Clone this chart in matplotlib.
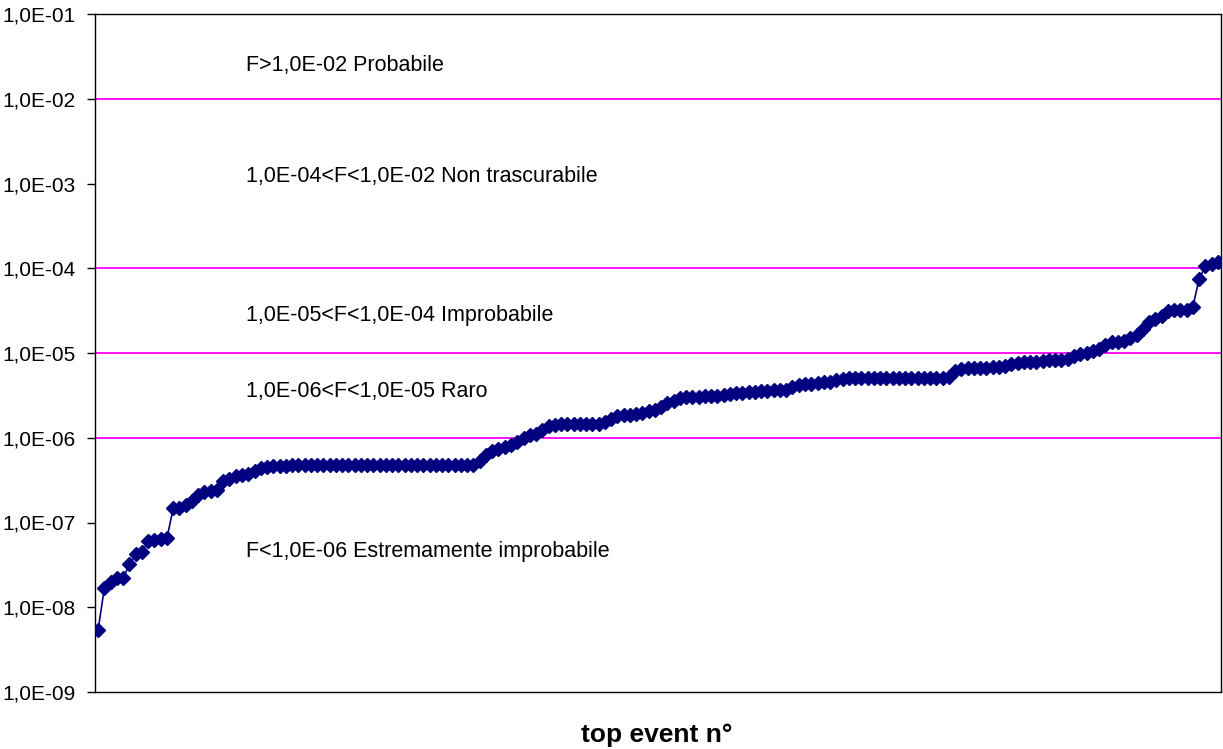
import matplotlib
matplotlib.use("Agg")
import matplotlib.pyplot as plt
from matplotlib.ticker import FixedLocator, FuncFormatter, NullLocator

plt.rcParams['font.family'] = ['Liberation Sans', 'DejaVu Sans']

# frequenze dei top event (ordinate crescenti)
freq = [
    5.4e-9, 1.7e-8, 2.0e-8, 2.2e-8, 2.2e-8, 3.2e-8, 4.2e-8, 4.5e-8, 6.0e-8, 6.3e-8,
    6.4e-8, 6.5e-8, 1.48e-7, 1.5e-7, 1.6e-7, 1.8e-7, 2.1e-7, 2.3e-7, 2.35e-7, 2.4e-7,
    3.1e-7, 3.3e-7, 3.5e-7, 3.6e-7, 3.7e-7, 4.1e-7, 4.4e-7, 4.5e-7, 4.6e-7, 4.6e-7,
    4.6e-7, 4.8e-7, 4.8e-7, 4.8e-7, 4.8e-7, 4.8e-7, 4.8e-7, 4.8e-7, 4.8e-7, 4.8e-7,
    4.8e-7, 4.8e-7, 4.8e-7, 4.8e-7, 4.8e-7, 4.8e-7, 4.8e-7, 4.8e-7, 4.8e-7, 4.8e-7,
    4.8e-7, 4.8e-7, 4.8e-7, 4.8e-7, 4.8e-7, 4.8e-7, 4.8e-7, 4.8e-7, 4.8e-7, 4.8e-7,
    4.8e-7, 5.3e-7, 6.2e-7, 7.0e-7, 7.4e-7, 7.8e-7, 8.3e-7, 9.0e-7, 9.8e-7, 1.08e-6,
    1.12e-6, 1.22e-6, 1.38e-6, 1.42e-6, 1.45e-6, 1.45e-6, 1.45e-6, 1.45e-6, 1.45e-6, 1.45e-6,
    1.45e-6, 1.55e-6, 1.65e-6, 1.8e-6, 1.86e-6, 1.86e-6, 1.92e-6, 1.98e-6, 2.06e-6, 2.15e-6,
    2.3e-6, 2.55e-6, 2.75e-6, 2.95e-6, 3.0e-6, 3.05e-6, 3.05e-6, 3.1e-6, 3.1e-6, 3.15e-6,
    3.2e-6, 3.3e-6, 3.35e-6, 3.4e-6, 3.45e-6, 3.5e-6, 3.55e-6, 3.6e-6, 3.62e-6, 3.65e-6,
    3.7e-6, 4.0e-6, 4.15e-6, 4.25e-6, 4.35e-6, 4.4e-6, 4.5e-6, 4.6e-6, 4.75e-6, 4.9e-6,
    5.1e-6, 5.1e-6, 5.1e-6, 5.1e-6, 5.1e-6, 5.1e-6, 5.1e-6, 5.1e-6, 5.1e-6, 5.1e-6,
    5.1e-6, 5.1e-6, 5.1e-6, 5.1e-6, 5.1e-6, 5.1e-6, 5.2e-6, 6.2e-6, 6.5e-6, 6.6e-6,
    6.6e-6, 6.7e-6, 6.7e-6, 6.8e-6, 6.9e-6, 7.1e-6, 7.4e-6, 7.6e-6, 7.8e-6, 7.9e-6,
    7.9e-6, 8.0e-6, 8.2e-6, 8.3e-6, 8.3e-6, 8.6e-6, 9.3e-6, 9.7e-6, 1.0e-5, 1.05e-5,
    1.1e-5, 1.25e-5, 1.35e-5, 1.35e-5, 1.4e-5, 1.5e-5, 1.65e-5, 1.9e-5, 2.3e-5, 2.5e-5,
    2.75e-5, 3.1e-5, 3.2e-5, 3.2e-5, 3.25e-5, 3.5e-5, 7.5e-5, 1.05e-4, 1.12e-4, 1.2e-4,
]

soglie = [1e-2, 1e-4, 1e-5, 1e-6]
classi = [
    (2.5e-2, "F>1,0E-02 Probabile"),
    (1.2e-3, "1,0E-04<F<1,0E-02 Non trascurabile"),
    (2.75e-5, "1,0E-05<F<1,0E-04 Improbabile"),
    (3.55e-6, "1,0E-06<F<1,0E-05 Raro"),
    (4.6e-8, "F<1,0E-06 Estremamente improbabile"),
]
yticks = [1e-9, 1e-8, 1e-7, 1e-6, 1e-5, 1e-4, 1e-3, 1e-2, 1e-1]

fig = plt.figure(figsize=(12.23, 7.49), dpi=100)
ax = fig.add_axes([95 / 1223, 57 / 749, 1126 / 1223, 678 / 749])

n = len(freq)
x = [i + 0.5 for i in range(n)]

for s in soglie:
    ax.axhline(s, color='#FF00FF', lw=1.3, zorder=1)

ax.plot(x, freq, color='#000080', lw=1.2, marker='D', markersize=6.8,
        markeredgecolor='#000080', zorder=3)

for yv, txt in classi:
    ax.text(0.134, yv, txt, transform=ax.get_yaxis_transform(),
            fontsize=15.5, va='center', ha='left')

ax.set_yscale('log')
ax.set_ylim(1e-9, 1e-1)
ax.set_xlim(0, n)
ax.yaxis.set_major_locator(FixedLocator(yticks))
ax.yaxis.set_minor_locator(NullLocator())
ax.yaxis.set_major_formatter(FuncFormatter(
    lambda v, p: "{:.1E}".format(v).replace('.', ',')))
ax.set_xticks([])
ax.tick_params(axis='y', labelsize=15, length=6, width=1, pad=8)

for sp in ax.spines.values():
    sp.set_color('black')
    sp.set_linewidth(1)

ax.set_xlabel("top event n°", fontsize=19, fontweight='bold', va='center')
ax.xaxis.set_label_coords(0.499, -0.063)

fig.savefig("out.png", dpi=100)
